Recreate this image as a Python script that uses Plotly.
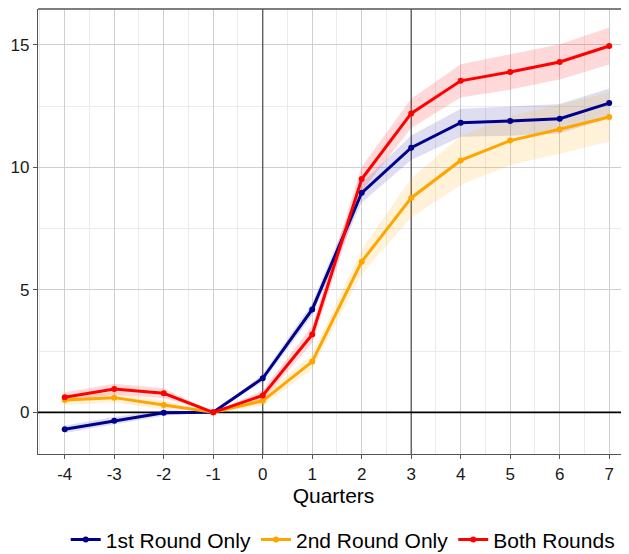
import plotly.graph_objects as go

quarters = [-4, -3, -2, -1, 0, 1, 2, 3, 4, 5, 6, 7]
series_names = ["1st Round Only", "2nd Round Only", "Both Rounds"]
first_only = [-0.69, -0.34, -0.02, 0.0, 1.39, 4.2, 8.96, 10.8, 11.82, 11.89, 11.98, 12.62]
first_ci = [0.15, 0.15, 0.12, 0.0, 0.15, 0.25, 0.4, 0.5, 0.57, 0.6, 0.6, 0.6]
second_only = [0.5, 0.6, 0.3, 0.0, 0.47, 2.07, 6.15, 8.75, 10.28, 11.09, 11.55, 12.05]
second_ci = [0.2, 0.2, 0.18, 0.0, 0.2, 0.3, 0.5, 0.8, 1.0, 1.0, 1.0, 1.0]
both = [0.62, 0.95, 0.78, 0.0, 0.69, 3.18, 9.52, 12.2, 13.53, 13.89, 14.3, 14.95]
both_ci = [0.2, 0.22, 0.2, 0.0, 0.2, 0.35, 0.5, 0.6, 0.68, 0.72, 0.72, 0.75]
event_quarters = [0, 3]

y_range = [-1.7, 16.46]
x_range = [-4.54, 7.4]

colors = ["#00008B", "#FFA500", "#FF0000"]
fills = ["rgba(0,0,139,0.13)", "rgba(255,165,0,0.15)", "rgba(255,0,0,0.15)"]

fig = go.Figure()
for q in event_quarters:
    fig.add_trace(go.Scatter(x=[q, q], y=y_range, mode="lines",
                             line=dict(color="#555555", width=1.3),
                             showlegend=False, hoverinfo="skip"))
fig.add_trace(go.Scatter(x=x_range, y=[0, 0], mode="lines",
                         line=dict(color="black", width=1.6),
                         showlegend=False, hoverinfo="skip"))

data = [(first_only, first_ci), (second_only, second_ci), (both, both_ci)]
for (vals, ci), fc in zip(data, fills):
    up = [v + c for v, c in zip(vals, ci)]
    lo = [v - c for v, c in zip(vals, ci)]
    fig.add_trace(go.Scatter(x=quarters + quarters[::-1], y=up + lo[::-1], fill="toself",
                             fillcolor=fc, line=dict(width=0), mode="lines",
                             showlegend=False, hoverinfo="skip"))

for name, (vals, ci), col in zip(series_names, data, colors):
    fig.add_trace(go.Scatter(x=quarters, y=vals, mode="lines+markers", name=name,
                             line=dict(color=col, width=3), marker=dict(color=col, size=6)))

fig.add_shape(type="line", xref="paper", yref="paper", x0=0, x1=1, y0=1, y1=1,
              line=dict(color="#555555", width=1.3))

font_family = "Liberation Sans, Arial, sans-serif"
# page body has an 8px margin, so the figure is sized to fit the 629x554 window
fig.update_layout(
    width=621, height=546,
    margin=dict(l=30, r=0, t=1, b=100),
    plot_bgcolor="white", paper_bgcolor="white",
    font=dict(family=font_family, color="black", size=16),
    showlegend=True,
    legend=dict(orientation="h", x=0.539, xanchor="center", xref="container",
                y=0.026, yanchor="middle", yref="container",
                font=dict(size=21), itemwidth=30, traceorder="normal"),
    xaxis=dict(range=x_range, tickmode="array", tickvals=quarters, automargin=False,
               ticktext=[str(q) for q in quarters], showgrid=True, gridcolor="#cfcfcf",
               gridwidth=1, zeroline=False, showline=True, linecolor="#555555", linewidth=1.3,
               ticks="outside", ticklen=4, tickcolor="#555555",
               tickfont=dict(size=17, color="#1a1a1a"),
               minor=dict(dtick=0.5, showgrid=True, gridcolor="#ebebeb", gridwidth=1),
               title=dict(text="Quarters", font=dict(size=21), standoff=1)),
    yaxis=dict(range=y_range, tickvals=[0, 5, 10, 15], showgrid=True, automargin=False,
               gridcolor="#cfcfcf", gridwidth=1, zeroline=False, showline=True,
               linecolor="#555555", linewidth=1.3, ticks="outside", ticklen=4,
               tickcolor="#555555", tickfont=dict(size=17, color="#1a1a1a"),
               minor=dict(tickvals=[-2.5, 2.5, 7.5, 12.5], showgrid=True, gridcolor="#ebebeb", gridwidth=1)),
)

fig.write_html("out.html")
